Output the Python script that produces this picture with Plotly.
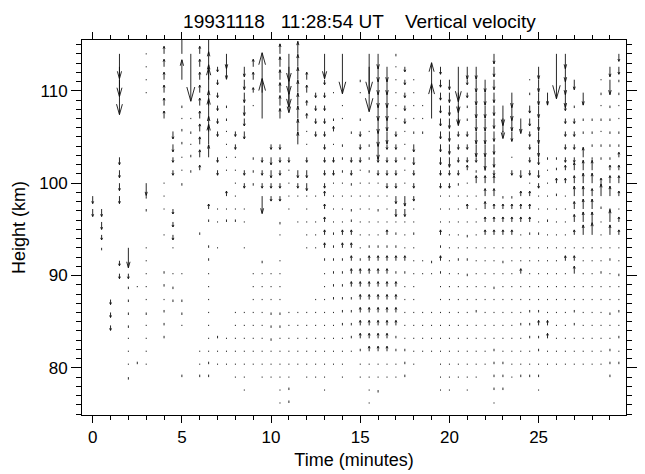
import plotly.graph_objects as go

# ---------------- data ----------------
TIMES = [0, 0.5, 1, 1.5, 2, 2.5, 3, 3.5, 4, 4.5, 5, 5.5, 6, 6.5, 7, 7.5, 8, 8.5, 9, 9.5,
         10, 10.5, 11, 11.5, 12, 12.5, 13, 13.5, 14, 14.5, 15, 15.5, 16, 16.5, 17, 17.5,
         18, 18.5, 19, 19.5, 20, 20.5, 21, 21.5, 22, 22.5, 23, 23.5, 24, 24.5, 25, 25.5,
         26, 26.5, 27, 27.5, 28, 28.5, 29, 29.5]

HEIGHTS = [76.2, 77.6, 79.0, 80.4, 81.8, 83.2, 84.6, 86.0, 87.4, 88.8, 90.2, 91.6, 93.0, 94.4,
           95.8, 97.2, 98.6, 100.0, 101.4, 102.8, 104.2, 105.6, 107.0, 108.4, 109.8, 111.2,
           112.6, 114.0]

# vertical velocity per column, sparse: "<gate>[-<gate>]<code>"
# code: '.' ~0, 'A'..'Z' upward 1..26 units, 'a'..'z' downward 1..26 units
W_CODES = [
    "15c 16c",
    "12a 13b 14c 15c",
    "6b 7b 8b",
    "10b 11b 16-19c 25n 26l 27j",
    "2a 3. 4. 5. 6a 7a 8a 9a 10b 12h",
    "3A 9.",
    "3-6. 7a 8-12. 15a 16a 17e 24-27.",
    "",
    "5-7A 8. 9A 10A 13. 15-17. 22-27C",
    "8a 9a 10. 12. 13-15b 18b 19b 20c 21c",
    "2A 6. 7a 8a 10. 17a 18. 19. 20A 21A 22. 23a 25H 27H",
    "18a 19A 20. 21a 22. 27s",
    "2A 3. 4. 13A 18B 19-27C",
    "2A 3A 4-10. 11A 12A 14A 15B 19E 20H 21F 22H 23F 24J 25F 26F 27J",
    "3. 4. 5A 12. 14. 15. 18b 19b 21-26b",
    "3-5. 14A 15. 16B 18-21. 22a 23a 26e 27f",
    "2-7. 14A 15-19. 20b 21b",
    "1-7. 12. 14. 15. 17b 18b 21c 22c 23-26d",
    "3-10. 17a 18a 19a 23. 24B 25C 26C",
    "2-10. 11a 16g 17b 18b 19b 22P 24P",
    "2-4. 5a 6a 7a 8-10. 16b 17b 18c 19c 20b",
    "0-5. 6a 7a 8-11. 13. 14a 16-20b 22-27D",
    "0A 1A 2-7. 15-18. 19b 24h 25k 26k 27k",
    "3-7. 14. 16. 17b 18c 20-27E",
    "2-7. 12-16. 17c 18c 19b 20. 21. 22B 23B 24C 25C",
    "2-8. 12-14. 16. 21-24b",
    "1-10. 11A 12-16B 17b 18b 19-25b 27j",
    "3-7. 8-13A 14-17. 18b 19b 20. 21B 22a 24.",
    "2-5. 6A 7A 8-11A 12B 13B 14-17. 18-20a 22. 23. 27p",
    "4. 5-8A 9-13B 14A 15a 16. 17a 18b 19b 21a",
    "2. 3. 4A 5-10B 11A 12-18. 19-21b 22a 24. 25a",
    "0-3. 4-11B 12A 13-17. 18-20a 21. 26r 27p",
    "1a 2. 3. 4-11B 12A 13. 14. 15a 16. 17. 18b 19b 20-27f",
    "2. 3. 4-11B 12A 13B 14-16. 17-20b 21e 22e 23-26f",
    "2. 3. 4A 5A 6-9B 10A 11B 12A 13A 14. 15c 16c 17-21b 22-26. 27a",
    "2-4A 5-9. 10A 11B 12-14. 15c 16d 17. 18. 19a 20. 21. 22-26b",
    "3-12. 13A 14. 15. 16-18b 19c 20c 21a 22-25.",
    "4-7. 10. 11. 21a 22. 23.",
    "4-7. 10. 11a 22N 24L",
    "1-9. 10A 11B 12A 13B 14-16. 17b 18b 19-26c",
    "1-16. 17b 18b 19-25d",
    "2-10. 11A 12-16. 17a 18-22b 23h 24h 26n",
    "1-9. 10a 11A 12. 13a 14. 15B 16. 17. 18B 19-21b 22a 23a 24b 25b 26e",
    "2-6. 7A 8-16. 17C 18a 19b 20-26e",
    "3-12. 13B 14B 15-17C 18. 19-25e",
    "0. 1-4A 5-8. 9a 10-12. 13-15B 16C 17C 18b 19-27d",
    "1-3A 4-10. 11a 12. 13-15B 16a 21. 22h 23h",
    "2-12. 13-15B 16a 18b 19. 21d 22e 23f 24f",
    "2A 3-5. 6A 7-9. 10B 11-13. 14-16B 18c 22f",
    "2A 3. 4. 5-7A 8-12. 13A 14-16B 17. 18b 19-21b 22c 23c 24a 25.",
    "1. 2A 3. 4A 5A 6B 7A 8-12. 13A 14-16. 17b 18c 19c 20-26e",
    "3. 4. 5B 6B 7-13. 14A 15-18. 19a 24e",
    "3-15. 16A 17B 18A 19a 27r",
    "3-10. 11B 12-16. 17B 18B 19-23b 24-27f",
    "3-5. 6A 7A 8. 9. 10C 11B 12. 13B 14C 15C 16D 17C 18C 19-22b 23a 25d",
    "3-12. 13-19D 21a 22a 24e",
    "3-12. 13E 14D 15D 16C 17D 18D 19-22a",
    "3-9. 10A 11-14. 15A 16E 17B 19a 20a 21. 22a 23. 24a 25.",
    "2-4A 5. 6. 7a 8-10. 11A 12. 13D 14E 15. 16D 17C 18B 19-23a 25f 26d",
    "3A 4. 5A 6. 7A 8. 9. 10a 11. 12. 13B 14B 15. 16B 17C 18B 19B 20a 21a 22. 23. 24a 25a 26c 27c",
]

TITLE = "19931118\u00a0\u00a0\u00a011:28:54 UT\u00a0\u00a0\u00a0\u00a0Vertical velocity"
X_TITLE = "Time (minutes)"
Y_TITLE = "Height (km)"

# ---------------- style / layout ----------------
W, H = 645, 474
ML, MR, MT, MB = 82, 8, 40, 58
X_RANGE = [-0.6, 29.9]
Y_RANGE = [74.9, 115.5]
UNIT_KM = 0.27          # arrow length per velocity unit (km on the height axis)
FONT = "Liberation Sans, Arial, Helvetica, sans-serif"
INK = "#111111"

px_x = (W - ML - MR) / (X_RANGE[1] - X_RANGE[0])
px_y = (H - MT - MB) / (Y_RANGE[1] - Y_RANGE[0])


def parse(spec):
    out = {}
    for tok in spec.split():
        code, rng = tok[-1], tok[:-1]
        if "-" in rng:
            a, b = (int(v) for v in rng.split("-"))
        else:
            a = b = int(rng)
        for k in range(a, b + 1):
            out[k] = code
    return out


def code_value(c):
    if c == ".":
        return 0
    if c.isupper():
        return ord(c) - 64
    return -(ord(c) - 96)


sx, sy, hx, hy = [], [], [], []
for t, spec in zip(TIMES, W_CODES):
    for k, c in parse(spec).items():
        h = HEIGHTS[k]
        v = code_value(c)
        if v == 0:
            d = 0.6 / px_y
            sx += [t, t, None]
            sy += [h - d, h + d, None]
            continue
        L = v * UNIT_KM
        tip = h + L
        sx += [t, t, None]
        sy += [h, tip, None]
        Lpx = abs(L) * px_y
        if Lpx < 4:
            continue
        hl = min(0.6 * Lpx, max(2.0, 0.3 * Lpx))
        hw = max(1.0, 0.085 * Lpx)
        s = 1 if v > 0 else -1
        base = tip - s * hl / px_y
        hx += [t - hw / px_x, t, t + hw / px_x, None]
        hy += [base, tip, base, None]

fig = go.Figure()
fig.add_trace(go.Scatter(x=sx, y=sy, mode="lines", line=dict(color=INK, width=0.9),
                         hoverinfo="skip", showlegend=False))
fig.add_trace(go.Scatter(x=hx, y=hy, mode="lines", line=dict(color=INK, width=0.9),
                         hoverinfo="skip", showlegend=False))

axis_common = dict(showline=True, linecolor="black", linewidth=1, mirror="ticks",
                   ticks="outside", tickcolor="black", tickwidth=1,
                   showgrid=False, zeroline=False,
                   tickfont=dict(family=FONT, size=17, color="black"))

fig.update_layout(
    width=W, height=H,
    margin=dict(l=ML, r=MR, t=MT, b=MB, pad=0),
    paper_bgcolor="white", plot_bgcolor="white",
    font=dict(family=FONT, size=17, color="black"),
    title=dict(text=TITLE, x=(ML + (W - ML - MR) / 2) / W, xanchor="center",
               y=1 - 21 / H, yanchor="middle", yref="container",
               font=dict(family=FONT, size=19, color="black")),
    xaxis=dict(range=X_RANGE, tick0=0, dtick=5, ticklen=7,
               minor=dict(tick0=0, dtick=1, ticks="outside", ticklen=4,
                          tickcolor="black", showgrid=False),
               title=dict(text=X_TITLE, font=dict(family=FONT, size=18), standoff=6),
               **axis_common),
    yaxis=dict(range=Y_RANGE, tick0=0, dtick=10, ticklen=10,
               minor=dict(tick0=0, dtick=1, ticks="outside", ticklen=5,
                          tickcolor="black", showgrid=False),
               title=dict(text=Y_TITLE, font=dict(family=FONT, size=18), standoff=8),
               **axis_common),
)

fig.write_html("out.html")
